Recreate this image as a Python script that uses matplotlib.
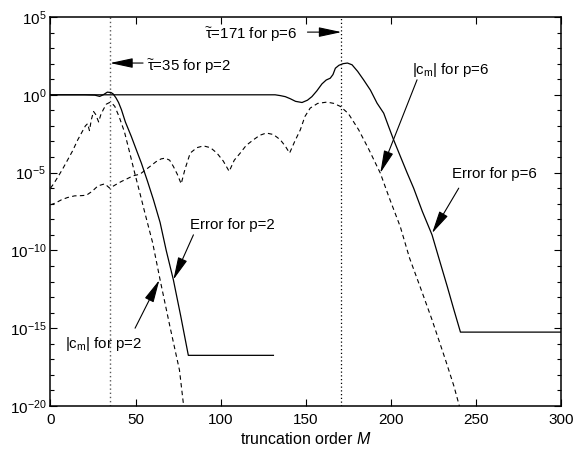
import matplotlib
matplotlib.use("Agg")
import matplotlib.pyplot as plt
from matplotlib.ticker import FixedLocator, NullFormatter, LogFormatterSciNotation

plt.rcParams['font.family'] = ['Liberation Sans', 'DejaVu Sans']
plt.rcParams['mathtext.fontset'] = 'custom'
plt.rcParams['mathtext.rm'] = 'Liberation Sans'
plt.rcParams['mathtext.it'] = 'Liberation Sans:italic'
plt.rcParams['mathtext.default'] = 'regular'

# Error for p=2 (solid)
m_err2 = [0, 20, 26, 28.9, 31, 33.4, 35.5, 36.8, 38.5, 40, 41.7, 44, 47.5, 50.5,
          53.4, 57, 60.5, 64.4, 68, 72.2, 76.5, 81, 131]
err2 = [1, 1, 0.955, 0.79, 1.0, 1.48, 1.41, 1.15, 0.63, 0.32, 0.11, 1.8e-2, 2.1e-3,
        2.8e-4, 4.1e-5, 2.8e-6, 1.8e-7, 6.3e-9, 1e-10, 1.3e-12, 6.3e-15, 1.8e-17, 1.8e-17]

# |c_m| for p=2 (dashed)
m_c2 = [0, 2, 4.5, 7, 10, 13, 16, 18.5, 20.5, 21.8, 22.9, 24, 25.3, 26.5, 28.3, 29.5,
        31, 32.8, 34.7, 36.2, 37.8, 40.5, 43.5, 46.5, 49.5, 52.5, 55.5, 60, 64.4, 70,
        75.8, 79]
c2 = [1e-6, 2.0e-6, 5.6e-6, 1.6e-5, 6.3e-5, 2.5e-4, 1.26e-3, 4.0e-3, 1.0e-2, 1.4e-2,
      5.0e-3, 2.5e-2, 8.5e-2, 5.6e-2, 1.8e-2, 5.0e-2, 0.11, 0.25, 0.32, 0.28, 0.18,
      3.5e-2, 4.0e-3, 2.0e-4, 9.3e-6, 5.0e-7, 2.5e-8, 3.2e-10, 1.3e-12, 1.6e-15,
      2.0e-18, 2.0e-21]

# Error for p=6 (solid)
m_err6 = [0, 132, 135, 138, 140.9, 144, 147.8, 151, 153.6, 156.5, 159.5, 162, 164.4,
          166, 167.4, 169.5, 171.9, 174.5, 177.2, 180.5, 184, 188, 191.9, 195.8, 198.7,
          201.6, 205.6, 209.5, 213.4, 218.5, 224.2, 228.5, 233.1, 237, 240.9, 300]
err6 = [1, 1, 0.89, 0.76, 0.56, 0.38, 0.32, 0.45, 0.76, 1.78, 5.0, 8.9, 11.7, 20, 51,
        79, 100, 110, 85, 32, 9.1, 2.0, 0.29, 6.6e-2, 9.1e-3, 1.3e-3, 1.1e-4, 1.0e-5,
        1.0e-6, 3.2e-8, 1.0e-9, 2.5e-11, 5.0e-13, 1.6e-14, 5.6e-16, 5.6e-16]

# |c_m| for p=6 (dashed)
m_c6 = [0, 3, 6.4, 10, 14.2, 18, 21.1, 24.5, 27.9, 31.9, 34.8, 38, 41.7, 45, 48.5,
        52.6, 55.5, 58.5, 62, 65, 67.4, 70, 72.2, 74.5, 76.8, 79, 82.1, 86, 89.9, 94,
        97.8, 101.5, 105, 108, 111.5, 115, 119.3, 123, 126.8, 131, 135, 138, 140.5,
        143.5, 146.8, 149.5, 152.6, 157, 162.5, 166.5, 170.3, 175, 181.1, 187, 193.8,
        199, 205.6, 211, 217.4, 224, 232, 237, 241.5]
c6 = [8.5e-8, 1.12e-7, 1.78e-7, 2.5e-7, 3.2e-7, 3.3e-7, 3.5e-7, 6.3e-7, 1.4e-6, 1.9e-6,
      1.0e-6, 1.6e-6, 2.7e-6, 4.0e-6, 6.2e-6, 7.9e-6, 1.4e-5, 2.5e-5, 5.0e-5, 7.6e-5,
      8.5e-5, 6.3e-5, 2.5e-5, 7.9e-6, 1.9e-6, 1.6e-5, 1.8e-4, 4.0e-4, 5.2e-4, 4.0e-4,
      1.8e-4, 5.6e-5, 1.2e-5, 6.3e-5, 1.8e-4, 5.6e-4, 1.3e-3, 2.5e-3, 3.5e-3, 2.8e-3,
      1.3e-3, 5.0e-4, 1.8e-4, 1.0e-3, 5.6e-3, 4.0e-2, 0.14, 0.28, 0.34, 0.28, 0.18,
      6.3e-2, 5.6e-3, 3.2e-4, 9.3e-6, 2.5e-7, 3.2e-9, 3.2e-11, 4.0e-13, 4.0e-15,
      1.0e-17, 2.0e-19, 3.2e-21]

fig = plt.figure(figsize=(5.73, 4.5), dpi=100)
ax = fig.add_axes([0.0881, 0.0978, 0.891, 0.8644])

ax.axvline(35, color='0.35', ls=(0, (1, 2)), lw=1.0)
ax.axvline(171, color='k', ls=(0, (1, 2)), lw=0.9)

ax.plot(m_err6, err6, color='k', lw=0.9)
ax.plot(m_err2, err2, color='k', lw=0.9)
ax.plot(m_c2, c2, color='k', lw=0.8, dashes=(4, 3))
ax.plot(m_c6, c6, color='k', lw=0.8, dashes=(4, 3))

ax.set_yscale('log')
ax.set_xlim(0, 300)
ax.set_ylim(1e-20, 1e5)
ax.xaxis.set_major_locator(FixedLocator([0, 50, 100, 150, 200, 250, 300]))
ax.yaxis.set_major_locator(FixedLocator([1e-20, 1e-15, 1e-10, 1e-5, 1e0, 1e5]))
ax.yaxis.set_minor_locator(FixedLocator([10.0**k for k in range(-20, 6) if k % 5 != 0]))
ax.yaxis.set_major_formatter(LogFormatterSciNotation())
ax.yaxis.set_minor_formatter(NullFormatter())
ax.tick_params(which='both', direction='in', top=True, right=True, labelsize=11)
ax.tick_params(which='major', length=5, width=0.8)
ax.tick_params(which='minor', length=3, width=0.8)
ax.tick_params(axis='x', pad=5)
ax.tick_params(axis='y', pad=3)
for s in ax.spines.values():
    s.set_linewidth(1.1)

ax.set_xlabel(r'truncation order $\mathit{M}$', fontsize=11.5, labelpad=3)

arr = dict(arrowstyle='-|>,head_length=0.7,head_width=0.15', color='k', lw=0.8,
           mutation_scale=20, shrinkA=0, shrinkB=0)
fs = 10.8

ax.annotate('', xy=(171, 1.07e4), xytext=(151, 1.07e4), arrowprops=arr)
ax.text(90.9, 4.0e3, r'$\widetilde{\tau}$=171 for p=6', fontsize=fs, va='baseline')

ax.annotate('', xy=(35, 110), xytext=(54.4, 110), arrowprops=arr)
ax.text(56.8, 31.6, r'$\widetilde{\tau}$=35 for p=2', fontsize=fs, va='baseline')

ax.annotate('', xy=(193.8, 9.3e-6), xytext=(215.4, 9.2), arrowprops=arr)
ax.text(212.5, 22, r'|c$_{\rm m}$| for p=6', fontsize=fs, va='baseline')

ax.annotate('', xy=(224.2, 1.26e-9), xytext=(239.9, 1.0e-6), arrowprops=arr)
ax.text(236.0, 4.4e-6, 'Error for p=6', fontsize=fs, va='baseline')

ax.annotate('', xy=(72.2, 1.3e-12), xytext=(84, 1.0e-9), arrowprops=arr)
ax.text(82.1, 2.5e-9, 'Error for p=2', fontsize=fs, va='baseline')

ax.annotate('', xy=(64, 1.26e-12), xytext=(49.7, 1.0e-15), arrowprops=arr)
ax.text(8.5, 5.2e-17, r'|c$_{\rm m}$| for p=2', fontsize=fs, va='baseline')

fig.savefig('out.png', dpi=100)
